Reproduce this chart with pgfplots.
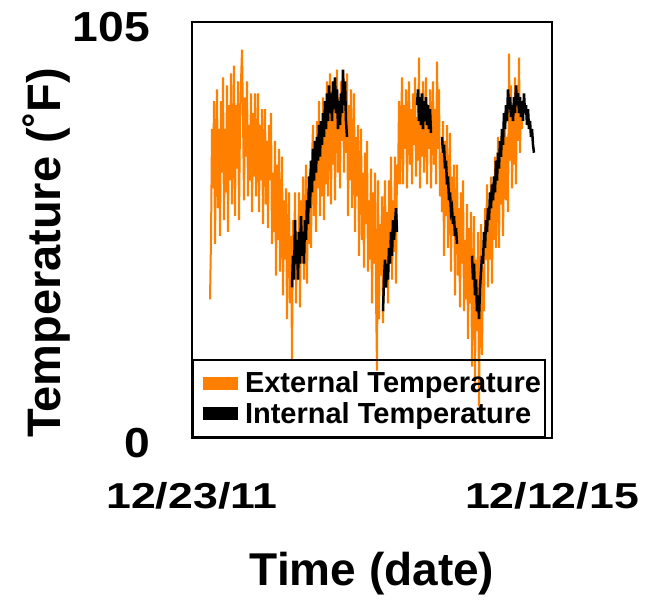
\documentclass[border=0pt]{standalone}
\usepackage{fontspec}
\setmainfont{Liberation Sans}
\usepackage{graphicx}
\usepackage{pgfplots}
\pgfplotsset{compat=1.18}
\definecolor{extorange}{RGB}{255,128,0}
\begin{document}
\begin{tikzpicture}
\begin{axis}[
    at={(192pt,-438pt)}, anchor=south west,
    scale only axis,
    width=360pt, height=416pt,
    xmin=0, xmax=360,
    ymin=0, ymax=105,
    axis line style={line width=2.5pt},
    major tick length=0pt,
    xtick={0,360},
    xticklabels={\scalebox{1.24}[1]{12/23/11},\scalebox{1.24}[1]{12/12/15}},
    ytick={0,105},
    yticklabels={\scalebox{1.1}[1]{0},\scalebox{1.1}[1]{105}},
    xticklabel style={font=\bfseries\fontsize{36}{36}\selectfont, anchor=north, inner sep=0pt, yshift=-44pt},
    yticklabel style={font=\bfseries\fontsize{42}{42}\selectfont, anchor=east, inner sep=0pt, xshift=-42pt, yshift=-5pt},
    xlabel={Time (date)},
    ylabel={Temperature (˚F)},
    xlabel style={font=\bfseries\fontsize{46}{46}\selectfont, at={(axis description cs:0.5,-0.327)}, anchor=center},
    ylabel style={font=\bfseries\fontsize{47}{47}\selectfont, at={(axis description cs:-0.403,0.445)}, anchor=center, rotate=0},
    legend style={at={(0,0)}, anchor=south west, draw=black, line width=2pt, fill=none,
        font=\bfseries\fontsize{29}{31}\selectfont, inner xsep=3pt, inner ysep=8pt,
        row sep=0pt, cells={anchor=west}, nodes={inner xsep=1pt, inner ysep=4pt}},
    legend image code/.code={\draw[line width=13pt] (0pt,0pt) -- (35pt,0pt);},
]
% external temperature
\addplot[extorange, line width=2pt] coordinates {
(18,35) (19,50) (20,78) (21,63) (22,85) (23,49) (24,73) (25,88) (26,58) (27,78)
(28,51) (29,85) (30,67) (31,91) (32,55) (33,78) (34,62) (35,89) (36,52) (37,84)
(38,65) (39,92) (40,59) (41,75) (42,94) (43,56) (44,84) (45,68) (46,90) (47,55)
(48,79) (49,90) (50,98) (51,81) (52,60) (53,86) (54,71) (55,90) (56,61) (57,79)
(58,65) (59,87) (60,57) (61,82) (62,66) (63,87) (64,61) (65,73) (66,87) (67,57)
(68,79) (69,65) (70,83) (71,54) (72,73) (73,83) (74,59) (75,75) (76,53) (77,79)
(78,65) (79,82) (80,49) (81,67) (82,52) (83,75) (84,41) (85,69) (86,50) (87,73)
(88,42) (89,56) (90,71) (91,36) (92,60) (93,45) (94,63) (95,30) (96,51) (97,62)
(98,34) (99,51) (100,20) (101,55) (102,43) (103,62) (104,34) (105,52) (106,40) (107,62)
(108,33) (109,60) (110,44) (111,66) (112,40) (113,54) (114,69) (115,39) (116,62) (117,49)
(118,68) (119,48) (120,70) (121,79) (122,56) (123,74) (124,52) (125,80) (126,63) (127,85)
(128,56) (129,76) (130,61) (131,86) (132,55) (133,82) (134,64) (135,90) (136,61) (137,78)
(138,92) (139,59) (140,85) (141,69) (142,90) (143,60) (144,84) (145,93) (146,67) (147,86)
(148,63) (149,90) (150,75) (151,92) (152,67) (153,87) (154,72) (155,92) (156,56) (157,84)
(158,65) (159,88) (160,58) (161,72) (162,87) (163,52) (164,76) (165,61) (166,79) (167,46)
(168,67) (169,78) (170,50) (171,67) (172,43) (173,72) (174,54) (175,75) (176,42) (177,60)
(178,45) (179,68) (180,34) (181,62) (182,44) (183,67) (184,36) (185,17) (186,65) (187,30)
(188,54) (189,41) (190,61) (191,29) (192,52) (193,65) (194,39) (195,57) (196,34) (197,65)
(198,49) (199,71) (200,40) (201,60) (202,47) (203,71) (204,39) (205,69) (206,64) (207,85)
(208,64) (209,77) (210,91) (211,64) (212,84) (213,73) (214,88) (215,63) (216,80) (217,90)
(218,69) (219,83) (220,64) (221,87) (222,74) (223,91) (224,66) (225,81) (226,70) (227,96)
(228,63) (229,85) (230,71) (231,90) (232,67) (233,78) (234,91) (235,64) (236,84) (237,73)
(238,88) (239,63) (240,80) (241,90) (242,69) (243,83) (244,64) (245,95) (246,73) (247,88)
(248,61) (249,72) (250,57) (251,80) (252,46) (253,75) (254,56) (255,79) (256,48) (257,62)
(258,77) (259,42) (260,66) (261,51) (262,69) (263,36) (264,57) (265,69) (266,41) (267,58)
(268,33) (269,62) (270,44) (271,65) (272,32) (273,50) (274,35) (275,59) (276,25) (277,53)
(278,34) (279,57) (280,18) (281,40) (282,56) (283,14) (284,45) (285,27) (286,52) (287,8)
(288,38) (289,54) (290,21) (291,43) (292,32) (293,58) (294,45) (295,64) (296,38) (297,56)
(298,45) (299,66) (300,39) (301,64) (302,50) (303,71) (304,48) (305,61) (306,76) (307,48)
(308,70) (309,59) (310,77) (311,51) (312,70) (313,81) (314,60) (315,76) (316,57) (317,97)
(318,70) (319,89) (320,63) (321,80) (322,69) (323,91) (324,64) (325,89) (326,75) (327,96)
(328,72) (329,85) (330,78)
};
\addlegendentry{External Temperature}
% internal temperature
\addplot[black, line width=2.5pt] coordinates {
(100,38) (101,46) (102,40) (103,55) (104,44) (105,50) (106,40) (107,52) (108,44) (109,56)
(110,46) (111,52) (112,44) (113,55) (114,50) (115,60) (116,54) (117,66) (118,58) (119,70)
(120,62) (121,73) (122,65) (123,75) (124,67) (125,76) (126,70) (127,79) (128,71) (129,80)
(130,74) (131,82) (132,76) (133,85) (134,78) (135,87) (136,80) (137,89) (138,82) (139,87)
(140,80) (141,90) (142,83) (143,91) (144,82) (145,88) (146,78) (147,85) (148,79) (149,87)
(150,82) (151,93) (152,84) (153,90) (154,80) (155,76)
};
\addlegendentry{Internal Temperature}
\addplot[black, line width=2.5pt, forget plot] coordinates {
(191,32) (192,40) (193,45) (194,38) (195,44) (196,40) (197,48) (198,44) (199,52) (200,46)
(201,55) (202,50) (203,54) (204,58) (205,52)
};
\addplot[black, line width=2.5pt, forget plot] coordinates {
(225,84) (226,88) (227,80) (228,86) (229,79) (230,87) (231,78) (232,85) (233,80) (234,86)
(235,79) (236,84) (237,78) (238,83) (239,77)
};
\addplot[black, line width=2.5pt, forget plot] coordinates {
(250,76) (251,72) (252,74) (253,68) (254,70) (255,64) (256,66) (257,60) (258,62) (259,57)
(260,58) (261,54) (262,56) (263,51) (264,53) (265,49)
};
\addplot[black, line width=2.5pt, forget plot] coordinates {
(280,46) (281,40) (282,44) (283,36) (284,40) (285,32) (286,36) (287,30) (288,38) (289,42)
(290,46) (291,44) (292,52) (293,48) (294,55) (295,52) (296,58) (297,55) (298,62) (299,58)
(300,64) (301,60) (302,66) (303,62) (304,70) (305,65) (306,72) (307,68) (308,75) (309,71)
(310,78) (311,74) (312,82) (313,78) (314,84) (315,80) (316,88) (317,83) (318,86) (319,81)
(320,84) (321,80) (322,86) (323,82) (324,89) (325,84) (326,87) (327,82) (328,86) (329,81)
(330,85) (331,80) (332,87) (333,82) (334,84) (335,79) (336,83) (337,78) (338,80) (339,76)
(340,78) (341,74) (342,72)
};
\end{axis}
\pgfresetboundingbox
\useasboundingbox (0pt,0pt) rectangle (652pt,-599pt);
\end{tikzpicture}
\end{document}
